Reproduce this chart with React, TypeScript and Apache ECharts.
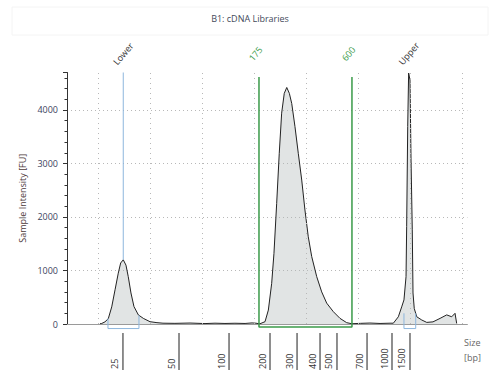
import React, { useEffect, useRef } from "react";
import * as echarts from "echarts";

// Electropherogram trace: migration time [s] vs sample intensity [FU]
const migrationTime = [
  20.17, 20.34, 20.65, 20.97, 21.3, 21.62, 21.93, 22.16, 22.41, 22.67, 22.89, 23.15, 23.44, 23.86, 24.34, 24.98,
  25.65, 26.23, 27.38, 28.83, 30.27, 31.23, 32.19, 33.15, 34.12, 34.79, 35.17, 35.46,
  35.56, 36.04, 36.36, 36.68, 36.9, 37.16, 37.41, 37.64, 37.89, 38.13, 38.38, 38.61, 38.92, 39.24, 39.57, 39.88,
  40.2, 40.53, 41.01, 41.49, 41.97, 42.61, 43.25, 43.89, 44.38,
  45.21, 46.13, 47.1, 48.06, 48.38, 48.86, 49.18, 49.4, 49.6, 49.66, 49.76, 49.85, 49.98, 50.08, 50.2, 50.27,
  50.39, 50.63, 51.11, 51.59, 52.19, 52.87, 53.51, 53.99, 54.31, 54.47, 54.5,
];
const intensity = [
  5, 10, 40, 100, 320, 640, 950, 1140, 1200, 1100, 885, 580, 325, 170, 105, 43,
  25, 15, 12, 18, 8, 15, 10, 14, 10, 20, 15, 5,
  5, 43, 260, 760, 1320, 2250, 3190, 3940, 4310, 4420, 4310, 4120, 3690, 3190, 2690, 2130,
  1630, 1260, 885, 600, 390, 230, 105, 25, 5,
  12, 18, 10, 15, 15, 135, 320, 450, 885, 1820, 3690, 4690, 4560, 3065, 1760, 580,
  290, 135, 75, 30, 40, 105, 170, 135, 200, 10, 0,
];

// Size ladder shown under the axis
const sizeLadderBp = ["25", "50", "100", "200", "300", "400", "500", "700", "1000", "1500"];
const sizeLadderTime = [22.38, 27.77, 32.58, 36.52, 39.12, 41.33, 42.96, 45.85, 48.25, 49.98];

// Vertical grid positions (time)
const gridTimes = [20, 25, 30, 35, 40, 45, 50, 55];

// Markers and region
const markerNames = ["Lower", "175", "600", "Upper"];
const markerTimes = [22.41, 35.46, 44.4, 49.85];
const markerKinds = ["marker", "region", "region", "marker"];
const lowerMarkerPeak = 1200;
const regionStart = 35.46;
const regionEnd = 44.4;
const regionTop = 4617;
const regionBottom = -56;
const lowerBracket = [20.94, 23.92];
const lowerBracketTops = [100, 160];
const upperBracket = [49.4, 50.53];
const upperBracketTops = [200, 200];
const bracketBottom = -85;

const yMax = 4700;
const FONT = "'Open Sans', 'Liberation Sans', sans-serif";
const GREEN = "#3b9b4a";
const BLUE = "#8db6dd";

export default function App() {
  const ref = useRef<HTMLDivElement>(null);
  useEffect(() => {
    const chart = echarts.init(ref.current!, null, { renderer: "svg" });
    const trace = migrationTime.map((t, i) => [t, intensity[i]]);
    const option: any = {
      animation: false,
      backgroundColor: "#ffffff",
      title: {
        text: "B1: cDNA Libraries",
        left: "center",
        top: 9,
        textStyle: { fontSize: 9, fontWeight: "normal", color: "#444a5a", fontFamily: FONT },
      },
      graphic: [
        {
          type: "rect",
          shape: { x: 12, y: 7, width: 476, height: 28 },
          style: { fill: "none", stroke: "#f4f4f4", lineWidth: 1 },
          silent: true,
        },
        {
          type: "text",
          x: 464,
          y: 342,
          style: { text: "Size", fill: "#666", font: `9px ${FONT}`, verticalAlign: "middle" },
        },
        {
          type: "text",
          x: 464,
          y: 357,
          style: { text: "[bp]", fill: "#666", font: `9px ${FONT}`, verticalAlign: "middle" },
        },
      ],
      grid: { left: 67, right: 32.6, top: 72.5, bottom: 51, containLabel: false },
      xAxis: {
        type: "value",
        min: 17,
        max: 55.5,
        axisLine: { show: true, onZero: false, lineStyle: { color: "#9a9a9a", width: 1 } },
        axisTick: { show: false },
        axisLabel: { show: false },
        splitLine: { show: false },
      },
      yAxis: {
        type: "value",
        min: 0,
        max: yMax,
        interval: 1000,
        name: "Sample Intensity [FU]",
        nameLocation: "middle",
        nameGap: 37,
        nameTextStyle: { fontSize: 9, color: "#4d3b3b", fontFamily: FONT },
        axisLine: { show: true, lineStyle: { color: "#333", width: 1 } },
        axisTick: { show: true, length: 4, lineStyle: { color: "#333" } },
        minorTick: { show: true, splitNumber: 5, length: 2.5, lineStyle: { color: "#333" } },
        axisLabel: {
          fontSize: 9,
          color: "#3b4460",
          fontFamily: FONT,
          margin: 9,
          showMaxLabel: false,
          formatter: (v: number) => String(v),
        },
        splitLine: {
          show: true,
          showMinLine: false,
          showMaxLine: false,
          lineStyle: { type: [1, 3], color: "#b8b8b8", width: 1 },
        },
      },
      series: [
        {
          type: "line",
          data: trace,
          showSymbol: false,
          symbol: "none",
          lineStyle: { color: "#222", width: 1 },
          areaStyle: { color: "rgba(178,186,184,0.55)", origin: "start" },
          z: 3,
          markLine: {
            silent: true,
            symbol: "none",
            label: { show: false },
            lineStyle: { type: [1, 4], color: "#b8b8b8", width: 1 },
            data: gridTimes.map((t) => ({ xAxis: t })),
          },
        },
        {
          type: "line",
          data: [
            [markerTimes[0], lowerMarkerPeak],
            [markerTimes[0], yMax],
          ],
          showSymbol: false,
          symbol: "none",
          lineStyle: { color: BLUE, width: 1 },
          z: 4,
        },
        {
          type: "line",
          clip: false,
          data: [
            [lowerBracket[0], lowerBracketTops[0]],
            [lowerBracket[0], bracketBottom],
            [lowerBracket[1], bracketBottom],
            [lowerBracket[1], lowerBracketTops[1]],
          ],
          showSymbol: false,
          symbol: "none",
          lineStyle: { color: BLUE, width: 1 },
          z: 4,
        },
        {
          type: "line",
          clip: false,
          data: [
            [upperBracket[0], upperBracketTops[0]],
            [upperBracket[0], bracketBottom],
            [upperBracket[1], bracketBottom],
            [upperBracket[1], upperBracketTops[1]],
          ],
          showSymbol: false,
          symbol: "none",
          lineStyle: { color: BLUE, width: 1 },
          z: 4,
        },
        {
          type: "line",
          clip: false,
          data: [
            [regionStart, regionTop],
            [regionStart, regionBottom],
            [regionEnd, regionBottom],
            [regionEnd, regionTop],
          ],
          showSymbol: false,
          symbol: "none",
          lineStyle: { color: GREEN, width: 1.5 },
          z: 5,
        },
        {
          type: "custom",
          clip: false,
          silent: true,
          data: sizeLadderTime.map((t, i) => [t, i]),
          encode: { x: 0 },
          renderItem: (params: any, api: any) => {
            const t = api.value(0);
            const i = api.value(1);
            const p = api.coord([t, 0]);
            return {
              type: "group",
              children: [
                {
                  type: "line",
                  shape: { x1: p[0], y1: p[1] + 9, x2: p[0], y2: p[1] + 46 },
                  style: { stroke: "#444", lineWidth: 1.2 },
                },
                {
                  type: "text",
                  x: p[0] - 8,
                  y: p[1] + 45,
                  rotation: Math.PI / 2,
                  style: {
                    text: sizeLadderBp[i],
                    fill: "#333",
                    font: `9px ${FONT}`,
                    align: "left",
                    verticalAlign: "middle",
                  },
                },
              ],
            };
          },
        },
        {
          type: "custom",
          clip: false,
          silent: true,
          data: markerTimes.map((t, i) => [t, i]),
          encode: { x: 0 },
          renderItem: (params: any, api: any) => {
            const t = api.value(0);
            const i = api.value(1);
            const p = api.coord([t, yMax]);
            const isRegion = markerKinds[i] === "region";
            return {
              type: "text",
              x: p[0] - 5,
              y: p[1] - (isRegion ? 10 : 6),
              rotation: 0.87,
              style: {
                text: markerNames[i],
                fill: isRegion ? GREEN : "#333",
                font: `9px ${FONT}`,
                align: "left",
                verticalAlign: "bottom",
              },
            };
          },
        },
      ],
    };
    chart.setOption(option);
    return () => chart.dispose();
  }, []);
  return (
    <div
      ref={ref}
      style={{ position: "fixed", left: 0, top: 0, width: 500, height: 375, background: "#fff" }}
    />
  );
}
